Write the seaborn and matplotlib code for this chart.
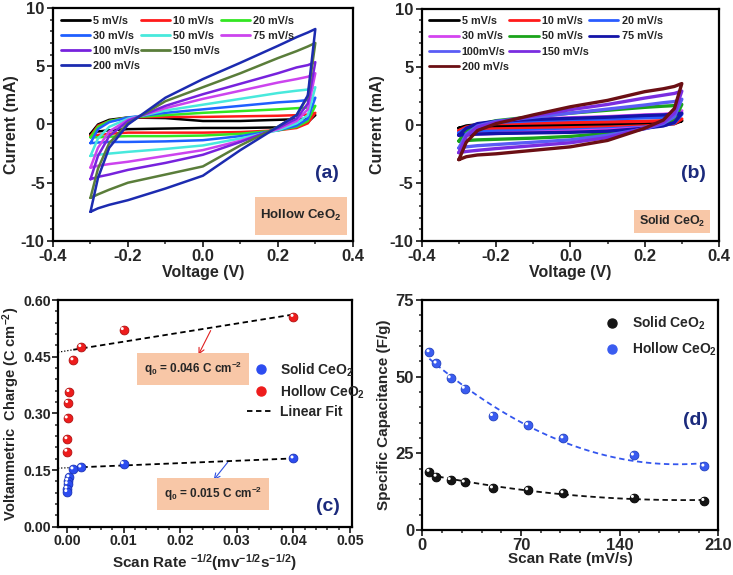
import numpy as np
import pandas as pd
import seaborn as sns
import matplotlib.pyplot as plt
import matplotlib.transforms as mtransforms
from matplotlib.lines import Line2D
from matplotlib.patches import Rectangle
from matplotlib.ticker import MultipleLocator, FormatStrFormatter

sns.set_style("ticks")
plt.rcParams['font.family'] = ['Liberation Sans', 'DejaVu Sans']
plt.rcParams['font.weight'] = 'bold'
plt.rcParams['axes.labelweight'] = 'bold'
plt.rcParams['mathtext.default'] = 'regular'
plt.rcParams['axes.unicode_minus'] = False

# ---- CV data: voltage grid, anodic (upper) and cathodic (lower) branch currents in mA
volt_grid = [-0.30, -0.28, -0.25, -0.20, -0.10, 0.0, 0.10, 0.20, 0.25, 0.28, 0.30]

rates_a = ['5 mV/s', '10 mV/s', '20 mV/s', '30 mV/s', '50 mV/s', '75 mV/s',
           '100 mV/s', '150 mV/s', '200 mV/s']
colors_a = ['#000000', '#ff1a1a', '#33e622', '#1f5fff', '#48e9dc', '#cc44ee',
            '#7722dd', '#5a7d3a', '#1c2bb0']
upper_a = [
    [-0.8, 0.0, 0.4, 0.6, 0.55, 0.3, 0.3, 0.4, 0.45, 0.5, 0.8],
    [-1.0, -0.1, 0.3, 0.6, 0.65, 0.65, 0.7, 0.75, 0.8, 0.85, 1.0],
    [-1.1, -0.2, 0.3, 0.6, 0.8, 1.0, 1.15, 1.3, 1.4, 1.45, 1.6],
    [-1.6, -0.4, 0.2, 0.6, 1.0, 1.3, 1.6, 1.9, 2.0, 2.1, 2.3],
    [-2.7, -1.2, -0.2, 0.5, 1.2, 1.7, 2.2, 2.7, 2.9, 3.0, 3.2],
    [-3.7, -2.0, -0.6, 0.4, 1.4, 2.2, 2.9, 3.6, 3.9, 4.1, 4.4],
    [-4.7, -2.7, -1.0, 0.3, 1.6, 2.6, 3.5, 4.4, 4.9, 5.1, 5.35],
    [-6.3, -3.8, -1.6, 0.1, 2.0, 3.2, 4.4, 5.7, 6.3, 6.7, 7.0],
    [-7.5, -4.6, -2.0, 0.0, 2.3, 3.9, 5.3, 6.75, 7.5, 7.9, 8.2],
]
lower_a = [
    [-0.8, -0.6, -0.5, -0.4, -0.35, -0.3, -0.3, -0.25, -0.1, 0.2, 0.8],
    [-1.0, -0.9, -0.8, -0.7, -0.7, -0.7, -0.65, -0.5, -0.3, 0.1, 1.0],
    [-1.1, -1.1, -1.05, -1.0, -1.0, -0.95, -0.8, -0.5, -0.2, 0.3, 1.6],
    [-1.6, -1.55, -1.5, -1.5, -1.45, -1.35, -1.0, -0.5, -0.1, 0.5, 2.3],
    [-2.7, -2.6, -2.5, -2.35, -2.1, -1.8, -1.2, -0.5, 0.1, 0.8, 3.2],
    [-3.7, -3.55, -3.4, -3.2, -2.7, -2.2, -1.4, -0.4, 0.3, 1.3, 4.4],
    [-4.7, -4.5, -4.3, -3.9, -3.3, -2.6, -1.5, -0.3, 0.5, 1.8, 5.35],
    [-6.3, -6.0, -5.6, -5.0, -4.3, -3.6, -1.8, -0.2, 0.8, 2.4, 7.0],
    [-7.5, -7.2, -6.9, -6.5, -5.5, -4.4, -2.2, -0.2, 0.8, 2.5, 8.2],
]

rates_b = ['5 mV/s', '10 mV/s', '20 mV/s', '30 mV/s', '50 mV/s', '75 mV/s',
           '100mV/s', '150 mV/s', '200 mV/s']
colors_b = ['#000000', '#ff1a1a', '#2a5cff', '#d444f0', '#1aa31a', '#1414a8',
            '#5a5cf5', '#7a2de0', '#6b0f14']
upper_b = [
    [-0.3, -0.1, 0.0, 0.05, 0.05, 0.05, 0.1, 0.15, 0.2, 0.25, 0.35],
    [-0.5, -0.2, 0.0, 0.1, 0.15, 0.2, 0.25, 0.3, 0.35, 0.4, 0.5],
    [-0.7, -0.3, 0.0, 0.2, 0.35, 0.45, 0.5, 0.6, 0.65, 0.7, 0.9],
    [-0.9, -0.4, 0.0, 0.3, 0.5, 0.6, 0.7, 0.85, 0.9, 1.0, 1.2],
    [-1.4, -0.5, 0.0, 0.35, 0.7, 1.0, 1.25, 1.5, 1.6, 1.65, 1.75],
    [-0.9, -0.3, 0.1, 0.3, 0.45, 0.55, 0.65, 0.8, 0.85, 0.9, 1.0],
    [-2.0, -0.8, -0.1, 0.3, 0.65, 1.0, 1.35, 1.7, 1.9, 2.0, 2.2],
    [-2.4, -1.0, -0.2, 0.2, 0.75, 1.3, 1.75, 2.3, 2.55, 2.7, 2.9],
    [-3.0, -1.5, -0.5, 0.1, 0.85, 1.55, 2.1, 2.85, 3.1, 3.3, 3.55],
]
lower_b = [
    [-0.3, -0.28, -0.25, -0.2, -0.15, -0.1, -0.05, 0.0, 0.05, 0.1, 0.35],
    [-0.5, -0.45, -0.4, -0.35, -0.3, -0.25, -0.2, -0.1, 0.0, 0.1, 0.5],
    [-0.7, -0.65, -0.6, -0.55, -0.5, -0.45, -0.35, -0.2, -0.05, 0.15, 0.9],
    [-0.9, -0.85, -0.8, -0.75, -0.65, -0.55, -0.45, -0.25, -0.05, 0.25, 1.2],
    [-1.4, -1.35, -1.3, -1.25, -1.15, -1.0, -0.75, -0.3, 0.0, 0.4, 1.75],
    [-0.9, -0.85, -0.8, -0.75, -0.7, -0.65, -0.55, -0.3, -0.1, 0.2, 1.0],
    [-2.0, -1.9, -1.8, -1.7, -1.5, -1.3, -0.9, -0.35, 0.1, 0.7, 2.2],
    [-2.4, -2.3, -2.2, -2.05, -1.8, -1.55, -1.1, -0.3, 0.2, 1.0, 2.9],
    [-3.0, -2.75, -2.6, -2.5, -2.2, -1.9, -1.35, -0.3, 0.4, 1.4, 3.55],
]

# ---- panel (c): voltammetric charge
inv_rate = [0.04, 0.01, 0.0025, 0.00111, 0.0004, 0.000178, 0.0001, 0.0000444, 0.000025]
q_hollow = [0.556, 0.521, 0.476, 0.441, 0.357, 0.328, 0.287, 0.232, 0.199]
q_solid = [0.181, 0.166, 0.157, 0.152, 0.131, 0.122, 0.113, 0.101, 0.092]
fit_hollow = [0.466, 2.40]   # intercept, slope
fit_solid = [0.156, 0.62]

# ---- panel (d): specific capacitance
scan_rate = [5, 10, 20, 30, 50, 75, 100, 150, 200]
cap_solid = [19.0, 17.4, 16.3, 15.5, 13.6, 13.0, 12.0, 10.5, 9.5]
cap_hollow = [58.0, 54.3, 49.5, 46.1, 37.2, 34.2, 29.9, 24.3, 20.7]

NAVY = '#1b2a7c'
BOX = '#f8c7a7'


def loop_frame(labels, upper, lower):
    parts = []
    for lab, up, low in zip(labels, upper, lower):
        v = volt_grid + volt_grid[::-1]
        cur = up + low[::-1]
        parts.append(pd.DataFrame({'V': v, 'I': cur, 'rate': lab}))
    return pd.concat(parts, ignore_index=True)


def style_axes(ax, xmaj, xmin, ymaj, ymin, lsize=12, pad=2):
    for s in ax.spines.values():
        s.set_linewidth(1.6)
        s.set_color('black')
    ax.xaxis.set_major_locator(MultipleLocator(xmaj))
    ax.xaxis.set_minor_locator(MultipleLocator(xmin))
    ax.yaxis.set_major_locator(MultipleLocator(ymaj))
    ax.yaxis.set_minor_locator(MultipleLocator(ymin))
    ax.tick_params(which='major', direction='out', length=4, width=1.3,
                   labelsize=lsize, pad=pad)
    ax.tick_params(which='minor', direction='out', length=2.5, width=1.1)
    ax.tick_params(which='both', top=False, right=False)
    for lab in ax.get_xticklabels() + ax.get_yticklabels():
        lab.set_fontweight('bold')


def cv_panel(ax, df, labels, colors, lw, tag, box_rect, box_text, box_fs, ylab_x):
    pal = dict(zip(labels, colors))
    sns.lineplot(data=df, x='V', y='I', hue='rate', palette=pal, sort=False,
                 estimator=None, linewidth=lw, legend=False, ax=ax)
    ax.set_xlim(-0.4, 0.4)
    ax.set_ylim(-10, 10)
    style_axes(ax, 0.2, 0.1, 5, 1)
    ax.xaxis.set_major_formatter(FormatStrFormatter('%.1f'))
    ax.set_xlabel('Voltage (V)', fontsize=11.5)
    ax.set_ylabel('Current (mA)', fontsize=11.5)
    ax.yaxis.set_label_coords(ylab_x, 0.5)
    ax.xaxis.set_label_coords(0.5, -0.105)
    # legend laid out row by row as in the original (4 rows x 3 columns)
    h = {lab: Line2D([], [], color=c, lw=2) for lab, c in zip(labels, colors)}
    blank = Line2D([], [], color='none')
    order = [labels[0], labels[3], labels[6], labels[8],
             labels[1], labels[4], labels[7], None,
             labels[2], labels[5], None, None]
    handles = [h[o] if o else blank for o in order]
    names = [o if o else '' for o in order]
    ax.legend(handles, names, ncol=3, loc='upper left', bbox_to_anchor=(0.0, 1.0),
              frameon=False, handlelength=2.7, handletextpad=0.3,
              columnspacing=0.05, labelspacing=0.48, borderaxespad=0.3,
              prop={'weight': 'bold', 'size': 7.8})
    ax.text(0.915, 0.29, tag, transform=ax.transAxes, color=NAVY,
            fontsize=14, fontweight='bold', ha='center', va='center')
    x0, y0, w, hh = box_rect
    ax.add_patch(Rectangle((x0, y0), w, hh, transform=ax.transAxes,
                           facecolor=BOX, edgecolor='none', zorder=1))
    ax.text(x0 + w / 2, y0 + hh / 2, box_text, transform=ax.transAxes,
            fontsize=box_fs, fontweight='bold', ha='center', va='center', zorder=2)


def balls(ax, fig, x, y, color, edge, size):
    sns.scatterplot(x=x, y=y, color=color, s=size, edgecolor=edge,
                    linewidth=0.6, ax=ax, zorder=4, legend=False)
    shift = mtransforms.ScaledTranslation(-1.0 / 72, 1.0 / 72, fig.dpi_scale_trans)
    ax.scatter(x, y, s=size * 0.12, color='white', edgecolor='none',
               transform=ax.transData + shift, zorder=5)


fig = plt.figure(figsize=(7.33, 5.75), dpi=100)
ax_a = fig.add_axes([0.0723, 0.581, 0.409, 0.405])
ax_b = fig.add_axes([0.5753, 0.581, 0.4056, 0.404])
ax_c = fig.add_axes([0.0791, 0.084, 0.4007, 0.394])
ax_d = fig.add_axes([0.5762, 0.0783, 0.4038, 0.400])

# (a) hollow
cv_panel(ax_a, loop_frame(rates_a, upper_a, lower_a), rates_a, colors_a, 1.8,
         '(a)', (0.673, 0.026, 0.307, 0.163), 'Hollow CeO$_2$', 9.5, -0.112)
# (b) solid
cv_panel(ax_b, loop_frame(rates_b, upper_b, lower_b), rates_b, colors_b, 2.4,
         '(b)', (0.714, 0.033, 0.255, 0.099), 'Solid CeO$_2$', 9.0, -0.125)

# (c) voltammetric charge
ax = ax_c
xl, xr = -0.0016, 0.0503
for (b0, b1) in (fit_hollow, fit_solid):
    xs_dot = np.array([xl, 0.0011])
    xs_dash = np.array([0.0011, 0.0402])
    sns.lineplot(x=xs_dot, y=b0 + b1 * xs_dot, color='black', lw=0.9,
                 linestyle=(0, (1, 1.5)), ax=ax, zorder=2)
    sns.lineplot(x=xs_dash, y=b0 + b1 * xs_dash, color='black', lw=1.3,
                 linestyle=(0, (3, 2)), ax=ax, zorder=2)
balls(ax, fig, inv_rate, q_solid, '#2c4cf0', '#1a33b8', 40)
balls(ax, fig, inv_rate, q_hollow, '#ee1c1c', '#b01010', 40)
ax.set_xlim(xl, xr)
ax.set_ylim(0, 0.6)
style_axes(ax, 0.01, 0.002, 0.15, 0.03, lsize=10.2, pad=1.2)
ax.xaxis.set_major_formatter(FormatStrFormatter('%.2f'))
ax.yaxis.set_major_formatter(FormatStrFormatter('%.2f'))
ax.set_xlabel('Scan Rate $^{-1/2}$(mv$^{-1/2}$s$^{-1/2}$)', fontsize=11)
ax.set_ylabel('Voltammetric  Charge (C cm$^{-2}$)', fontsize=10.5)
ax.yaxis.set_label_coords(-0.124, 0.5)
ax.xaxis.set_label_coords(0.5, -0.11)
leg_h = [Line2D([], [], marker='o', ls='', color='#2c4cf0', markersize=6.5),
         Line2D([], [], marker='o', ls='', color='#ee1c1c', markersize=6.5),
         Line2D([], [], color='black', lw=1.3, ls=(0, (3, 2)))]
ax.legend(leg_h, ['Solid CeO$_2$', 'Hollow CeO$_2$', 'Linear Fit'],
          loc='upper left', bbox_to_anchor=(0.6, 0.785), frameon=False,
          handlelength=2.0, handletextpad=0.4, labelspacing=0.32,
          prop={'weight': 'bold', 'size': 10})
ax.annotate('', xy=(0.0230, 0.449), xytext=(0.0256, 0.526),
            arrowprops=dict(arrowstyle='->', color='#e02020', lw=0.8))
ax.annotate('', xy=(0.0256, 0.118), xytext=(0.0287, 0.1765),
            arrowprops=dict(arrowstyle='->', color='#3050e0', lw=0.8))
ax.text(0.0223, 0.417, 'q$_0$ = 0.046 C cm$^{-2}$', fontsize=8.5, fontweight='bold',
        ha='center', va='center',
        bbox=dict(boxstyle='square,pad=0.6', facecolor=BOX, edgecolor='none'))
ax.text(0.0258, 0.0866, 'q$_0$ = 0.015 C cm$^{-2}$', fontsize=8.5, fontweight='bold',
        ha='center', va='center',
        bbox=dict(boxstyle='square,pad=0.6', facecolor=BOX, edgecolor='none'))
ax.text(0.92, 0.087, '(c)', transform=ax.transAxes, color=NAVY,
        fontsize=14, fontweight='bold', ha='center', va='center')

# (d) specific capacitance
ax = ax_d
xs = np.linspace(scan_rate[0], scan_rate[-1], 100)
for cap, col in ((cap_solid, '#111111'), (cap_hollow, '#3456ee')):
    coef = np.polyfit(scan_rate, cap, 2)
    sns.lineplot(x=xs, y=np.polyval(coef, xs), color=col, lw=1.3,
                 linestyle=(0, (3, 2)), ax=ax, zorder=2)
balls(ax, fig, scan_rate, cap_solid, '#151515', '#000000', 40)
balls(ax, fig, scan_rate, cap_hollow, '#3a5cf0', '#2040c0', 40)
ax.set_xlim(0, 210)
ax.set_ylim(0, 75)
style_axes(ax, 70, 14, 25, 5)
ax.set_xlabel('Scan Rate (mV/s)', fontsize=11)
ax.set_ylabel('Specific Capacitance (F/g)', fontsize=11)
ax.yaxis.set_label_coords(-0.106, 0.5)
ax.xaxis.set_label_coords(0.5, -0.096)
leg_h = [Line2D([], [], marker='o', ls='', color='#151515', markersize=6.5),
         Line2D([], [], marker='o', ls='', color='#3a5cf0', markersize=6.5)]
ax.legend(leg_h, ['Solid CeO$_2$', 'Hollow CeO$_2$'], loc='upper left',
          bbox_to_anchor=(0.55, 0.99), frameon=False, handletextpad=0.5,
          labelspacing=0.6, prop={'weight': 'bold', 'size': 10})
ax.text(0.921, 0.478, '(d)', transform=ax.transAxes, color=NAVY,
        fontsize=14, fontweight='bold', ha='center', va='center')

fig.savefig('out.png', dpi=100)
